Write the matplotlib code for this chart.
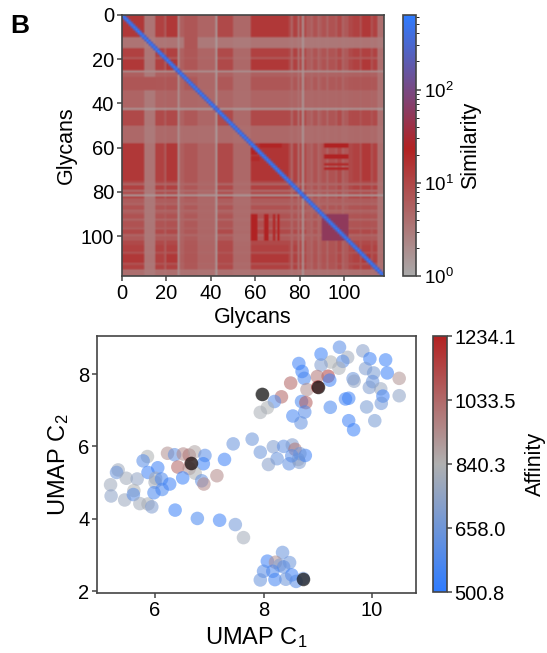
import matplotlib
matplotlib.use("Agg")
import matplotlib.pyplot as plt
import matplotlib.colors as mcolors
import numpy as np

plt.rcParams["font.family"] = ["Liberation Sans", "DejaVu Sans"]
plt.rcParams["mathtext.default"] = "regular"

# glycan similarity levels along the axis, as (run length, level)
level_runs = [(10, 14), (5, 3), (4, 11), (1, 6), (5, 14), (1, 2), (2, 5), (6, 6.5), (8, 4.5), (1, 1.5), (7, 9),
              (8, 4), (17, 14), (1, 9), (1, 4.5), (2, 11), (1, 4), (1, 9), (1, 1.6), (1, 9),
              (2, 5.5), (1, 4.5), (2, 7), (1, 4.5), (1, 5.5),
              (2, 7), (1, 4.5), (3, 7), (1, 5.5), (2, 9), (1, 4.5), (2, 6),
              (2, 9), (3, 11), (1, 7), (4, 14), (1, 7), (2, 11), (3, 3.5)]
# blocks of other similarity: (start1, end1, start2, end2, value)
blocks = [(10, 15, 28, 34, 7), (28, 34, 10, 15, 7),
          (58, 75, 58, 75, 15), (58, 60, 62, 72, 22), (60, 63, 58, 61, 24), (64, 66, 58, 62, 20),
          (90, 102, 90, 102, 55),
          (90, 102, 58, 61, 24), (90, 102, 64, 66, 24), (90, 102, 68, 69, 22), (90, 102, 70, 71, 22),
          (58, 60, 91, 102, 24), (63, 65, 91, 102, 24), (67, 68, 91, 102, 20), (69, 70, 91, 102, 24)]
diag_value = 630
near_diag_value = 220

# UMAP points
umap_x = [9.40, 9.83, 9.06, 9.96, 10.25, 9.55, 9.46, 9.24, 9.06, 8.65, 9.39, 9.88, 8.71, 10.03, 10.28,
          9.19, 8.99, 8.75, 9.22, 9.65, 9.67, 10.50, 10.01, 9.95, 10.16, 8.50, 8.80, 8.33, 10.20, 10.50,
          9.51, 9.57, 8.20, 8.70, 8.78, 8.07, 7.94, 10.17, 9.90, 9.23, 8.76, 8.54, 8.69, 9.57, 10.05, 9.66,
          7.44, 7.79, 7.94, 8.18, 8.37, 8.53, 8.58,
          5.86, 5.78, 6.23, 6.36, 6.52, 6.63, 6.73, 6.92, 6.89, 7.28, 6.42, 6.63, 6.74, 6.05, 5.87,
          5.32, 5.29, 5.47, 5.67, 6.01, 6.00, 6.12, 6.27, 6.51, 6.86, 6.90, 7.14, 5.18, 5.19, 5.44,
          5.61, 5.60, 5.72, 5.87, 5.94, 5.98, 6.13, 6.37, 6.78, 7.19, 7.48, 7.63,
          8.25, 8.09, 8.47, 8.66, 8.64, 8.77, 8.67, 8.52,
          8.35, 8.07, 8.22, 8.48, 8.30, 8.37, 8.00, 8.17, 8.52, 7.94, 8.21, 8.41, 8.60]
umap_y = [8.74, 8.64, 8.55, 8.42, 8.39, 8.46, 8.35, 8.33, 8.25, 8.29, 8.16, 8.15, 8.07, 8.03, 8.03,
          7.94, 7.93, 7.88, 7.83, 7.87, 7.80, 7.88, 7.79, 7.63, 7.59, 7.75, 7.57, 7.37, 7.39, 7.40,
          7.31, 7.33, 7.24, 7.24, 7.21, 7.07, 6.94, 7.19, 7.09, 7.08, 6.95, 6.84, 6.65, 6.71, 6.71, 6.46,
          6.07, 6.20, 5.84, 5.99, 6.00, 6.04, 5.92,
          5.72, 5.60, 5.81, 5.77, 5.79, 5.76, 5.85, 5.75, 5.52, 5.64, 5.43, 5.39, 5.26, 5.41, 5.28,
          5.35, 5.28, 5.12, 5.10, 5.12, 5.01, 5.10, 4.96, 5.13, 5.05, 4.96, 5.19, 4.94, 4.63, 4.52,
          4.78, 4.67, 4.42, 4.41, 4.33, 4.72, 4.81, 4.24, 4.01, 3.96, 3.84, 3.48,
          5.66, 5.50, 5.52, 5.56, 5.64, 5.75, 5.80, 5.74,
          3.07, 2.83, 2.80, 2.79, 2.72, 2.67, 2.55, 2.55, 2.45, 2.31, 2.32, 2.33, 2.27]
affinity = [600, 720, 530, 540, 530, 790, 600, 830, 700, 540, 820, 700, 530, 680, 530,
            1150, 1000, 560, 540, 650, 750, 920, 640, 700, 770, 1050, 930, 1050, 540, 740,
            540, 540, 600, 560, 1080, 830, 820, 660, 680, 560, 590, 550, 630, 540, 680, 530,
            640, 650, 650, 700, 620, 700, 1000,
            830, 600, 930, 620, 950, 1000, 870, 600, 530, 540, 1050, 930, 830, 540, 540,
            790, 650, 800, 750, 800, 800, 570, 540, 530, 620, 950, 950, 790, 740, 780,
            830, 600, 800, 820, 700, 560, 560, 530, 560, 540, 660, 800,
            640, 720, 620, 700, 750, 540, 660, 600,
            640, 540, 930, 650, 700, 620, 600, 570, 540, 640, 550, 650, 600]
# the highlighted glycans, drawn over their own affinity colour
dark_x = [9.00, 7.97, 6.66, 8.73]
dark_y = [7.64, 7.44, 5.53, 2.35]
dark_affinity = [1234.1, 840.3, 1033.5, 658.0]

sim_ticks = [1, 10, 100]
affinity_ticks = [500.8, 658.0, 840.3, 1033.5, 1234.1]
xy_ticks_x = [6, 8, 10]
xy_ticks_y = [2, 4, 6, 8]
heat_ticks = [0, 20, 40, 60, 80, 100]

levels = np.concatenate([np.full(n, v, dtype=float) for n, v in level_runs])
n = len(levels)
log_lv = np.log10(levels)
sim = 10 ** (0.8 * np.minimum.outer(log_lv, log_lv) + 0.2 * (log_lv[:, None] + log_lv[None, :]) / 2)
for a, b, c, d, v in blocks:
    sim[a:b, c:d] = v
idx = np.arange(n)
sim[idx[:-1], idx[1:]] = near_diag_value
sim[idx[1:], idx[:-1]] = near_diag_value
sim[idx, idx] = diag_value

sim_cmap = mcolors.LinearSegmentedColormap.from_list(
    "sim", [(0, "#aaaaaa"), (0.49, "#b22222"), (1, "#2e7bff")])
aff_cmap = mcolors.LinearSegmentedColormap.from_list("aff", ["#2e7bff", "#b0b0b0", "#b22222"])
# tick values sit evenly spaced on the affinity colorbar
aff_pos = np.linspace(0, 1, len(affinity_ticks))
aff_norm = mcolors.FuncNorm((lambda v: np.interp(v, affinity_ticks, aff_pos),
                             lambda p: np.interp(p, aff_pos, affinity_ticks)),
                            vmin=500.8, vmax=1234.1)

W, H = 547, 653
fig = plt.figure(figsize=(W / 100, H / 100), dpi=100)


def px_axes(x0, y0, x1, y1):
    return fig.add_axes([x0 / W, 1 - y1 / H, (x1 - x0) / W, (y1 - y0) / H])


def dress(ax):
    for s in ax.spines.values():
        s.set_color("#444444")
        s.set_linewidth(1.2)
    ax.tick_params(labelsize=14.5, length=3.5, width=1.1, color="#444444", pad=2)


ax = px_axes(122, 15, 384, 276)
im = ax.imshow(sim, cmap=sim_cmap, norm=mcolors.LogNorm(vmin=1, vmax=diag_value), aspect="auto",
               extent=[0, n, n, 0], interpolation="bilinear")
ax.set_xticks(heat_ticks)
ax.set_yticks(heat_ticks)
ax.set_xlabel("Glycans", fontsize=15.5, labelpad=3)
ax.set_ylabel("Glycans", fontsize=15.5, labelpad=3)
dress(ax)

cax = px_axes(403, 15, 416, 276)
cb = fig.colorbar(im, cax=cax)
cb.set_ticks(sim_ticks)
dress(cax)
cax.tick_params(labelsize=13.5)
cb.set_label("Similarity", fontsize=15.5, labelpad=5)

ax2 = px_axes(97, 336, 416, 593)
ax2.scatter(umap_x, umap_y, c=affinity, cmap=aff_cmap, norm=aff_norm, s=95, alpha=0.55, linewidths=0)
ax2.scatter(dark_x, dark_y, c=dark_affinity, cmap=aff_cmap, norm=aff_norm, s=95, alpha=0.55, linewidths=0)
ax2.scatter(dark_x, dark_y, c="#111111", s=95, alpha=0.7, linewidths=0)
ax2.set_xlim(4.93, 10.81)
ax2.set_ylim(1.95, 9.05)
ax2.set_xticks(xy_ticks_x)
ax2.set_yticks(xy_ticks_y)
ax2.set_xlabel("UMAP C$_1$", fontsize=17, labelpad=4)
ax2.set_ylabel("UMAP C$_2$", fontsize=17, labelpad=5)
dress(ax2)

cax2 = px_axes(433, 336, 447, 592)
sm = plt.cm.ScalarMappable(norm=aff_norm, cmap=aff_cmap)
cb2 = fig.colorbar(sm, cax=cax2)
cb2.set_ticks(affinity_ticks)
cb2.set_ticklabels([f"{t:.1f}" for t in affinity_ticks])
cb2.minorticks_off()
cb2.set_label("Affinity", fontsize=15.5, labelpad=6)
dress(cax2)

fig.text(10 / W, 1 - 33 / H, "B", fontsize=19, fontweight="bold")

fig.savefig("out.png", dpi=100)
